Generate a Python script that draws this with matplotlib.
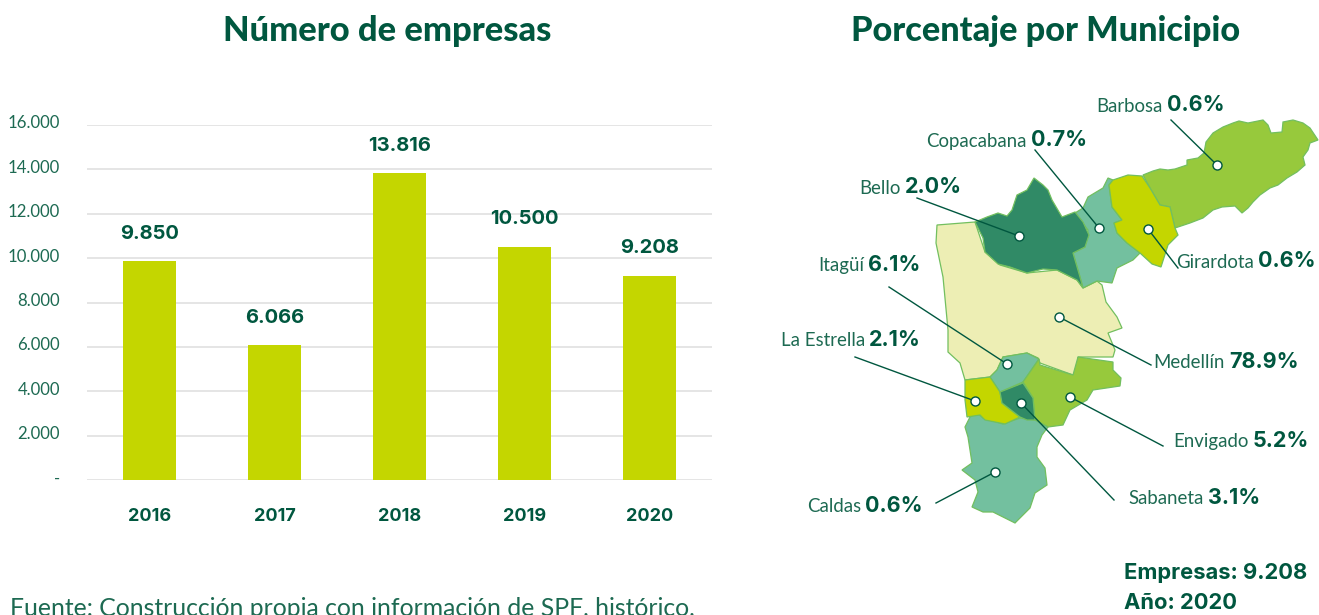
import matplotlib
matplotlib.use("Agg")
import matplotlib.pyplot as plt
from matplotlib.patches import Polygon
from matplotlib.transforms import ScaledTranslation

plt.rcParams['font.family'] = ['Lato', 'DejaVu Sans']

DARK = "#00573f"
TICK = "#1d6a52"
EDGE = "#72bf5f"
NUM_FONT = ['Inter', 'DejaVu Sans']

# Bar chart data
years = ["2016", "2017", "2018", "2019", "2020"]
companies = [9850, 6066, 13816, 10500, 9208]
y_ticks = [0, 2000, 4000, 6000, 8000, 10000, 12000, 14000, 16000]

# Municipality outlines (image pixels)
barbosa = [(1143, 175), (1153, 171), (1160, 169), (1168, 170), (1175, 169), (1187, 165), (1187, 160), (1198, 158),
           (1204, 153), (1206, 142), (1213, 133), (1223, 127), (1233, 123), (1239, 121), (1248, 123), (1263, 120),
           (1268, 125), (1271, 133), (1282, 132), (1283, 122), (1293, 120), (1303, 123), (1310, 128), (1318, 140),
           (1310, 143), (1308, 150), (1303, 157), (1305, 165), (1297, 172), (1287, 178), (1278, 185), (1270, 188),
           (1260, 195), (1253, 202), (1248, 208), (1242, 213), (1235, 206), (1222, 207), (1213, 210), (1203, 218),
           (1190, 223), (1175, 228), (1170, 207), (1160, 205), (1150, 188)]
girardota = [(1109, 185), (1113, 180), (1128, 175), (1142, 176), (1150, 188), (1160, 205), (1170, 207),
             (1175, 228), (1178, 235), (1168, 245), (1161, 267), (1152, 264), (1140, 253), (1127, 243),
             (1117, 233), (1114, 223), (1122, 220), (1112, 207)]
copacabana = [(1108, 178), (1113, 180), (1109, 185), (1112, 207), (1122, 220), (1114, 223), (1117, 233),
              (1127, 243), (1140, 253), (1133, 260), (1117, 268), (1112, 283), (1097, 281), (1083, 288),
              (1080, 277), (1073, 253), (1085, 247), (1088, 230), (1075, 213), (1083, 208), (1088, 197),
              (1103, 188)]
bello = [(975, 222), (987, 217), (998, 213), (1007, 216), (1012, 210), (1017, 195), (1027, 190), (1034, 178),
         (1043, 185), (1048, 190), (1052, 200), (1062, 217), (1075, 212), (1083, 222), (1089, 235), (1085, 247),
         (1073, 253), (1080, 277), (1083, 288), (1077, 280), (1067, 275), (1057, 270), (1043, 269), (1027, 273),
         (1010, 267), (998, 264), (985, 252), (983, 238)]
medellin = [(937, 225), (975, 222), (985, 252), (1000, 265), (1027, 273), (1057, 270), (1077, 280),
            (1083, 288), (1097, 281), (1102, 285), (1106, 302), (1117, 317), (1122, 328), (1108, 333), (1115, 350),
            (1113, 357), (1078, 357), (1077, 370), (1073, 375), (1040, 363), (1038, 358), (1027, 353), (1003, 357),
            (997, 370), (990, 377), (965, 380), (960, 363), (948, 352), (948, 330), (943, 277), (936, 243)]
itagui = [(1003, 357), (1027, 353), (1039, 359), (1023, 382), (1000, 392), (990, 377), (997, 370)]
envigado = [(1039, 359), (1040, 365), (1073, 375), (1078, 357), (1113, 362), (1113, 370), (1121, 378),
            (1120, 386), (1093, 390), (1087, 400), (1070, 410), (1063, 425), (1048, 427), (1035, 420),
            (1033, 398), (1023, 382)]
la_estrella = [(965, 380), (990, 377), (1000, 392), (1002, 403), (1020, 417), (1005, 424), (985, 420),
               (980, 415), (967, 417), (965, 400)]
sabaneta = [(1000, 392), (1023, 383), (1033, 398), (1035, 420), (1027, 420), (1020, 417), (1002, 403)]
caldas = [(965, 427), (970, 417), (977, 413), (983, 418), (1003, 424), (1020, 418), (1035, 420), (1048, 427),
          (1042, 435), (1037, 447), (1037, 457), (1045, 468), (1047, 485), (1035, 493), (1030, 508), (1015, 523),
          (1003, 517), (993, 512), (983, 512), (972, 507), (978, 492), (975, 480), (962, 470), (972, 463), (968, 437)]

shapes = [
    (medellin, "#edeeb4"), (barbosa, "#97c93c"), (copacabana, "#73c09f"), (bello, "#308a66"),
    (girardota, "#c4d600"), (itagui, "#73c09f"), (envigado, "#97c93c"), (caldas, "#73c09f"),
    (la_estrella, "#c4d600"), (sabaneta, "#308a66"),
]

# name, share, split x, text y, dot, line end
callouts = [
    ("Barbosa", "0.6%", 1165, 105, (1217, 165), (1171, 120)),
    ("Copacabana", "0.7%", 1029, 140, (1099, 228), (1035, 150)),
    ("Bello", "2.0%", 903, 187, (1019, 236), (917, 198)),
    ("Girardota", "0.6%", 1256, 261, (1148, 229), (1178, 268)),
    ("Itagüí", "6.1%", 866, 265, (1007, 364), (889, 287)),
    ("Medellín", "78.9%", 1227, 362, (1059, 317), (1151, 365)),
    ("La Estrella", "2.1%", 867, 340, (975, 401), (855, 357)),
    ("Envigado", "5.2%", 1251, 441, (1070, 397), (1163, 446)),
    ("Sabaneta", "3.1%", 1206, 498, (1021, 403), (1114, 500)),
    ("Caldas", "0.6%", 863, 506, (995, 472), (936, 503)),
]

W, H = 1319, 615


def thousands(v):
    return "-" if v == 0 else f"{v:,}".replace(",", ".")


def main():
    fig = plt.figure(figsize=(W / 100, H / 100), dpi=100)

    # Bars
    ax = fig.add_axes([87 / W, 1 - 480 / H, 625 / W, 355 / H])
    ax.bar(years, companies, width=0.424, color="#c4d600", zorder=3)
    ax.set_xlim(-0.5, 4.5)
    ax.set_ylim(0, 16000)
    ax.set_yticks(y_ticks, [thousands(v) for v in y_ticks])
    ax.grid(axis="y", color="#dedede", linewidth=1.1, zorder=0)
    ax.tick_params(length=0)
    ax.tick_params(axis="y", labelsize=12.1, labelcolor=TICK, pad=19.5)
    ax.tick_params(axis="x", labelsize=13, labelcolor=DARK, pad=20.5)
    for t in ax.get_xticklabels():
        t.set_fontweight("bold")
        t.set_family(NUM_FONT)
    # labels sit a little above their gridlines
    lift = ScaledTranslation(0, 3 / 100, fig.dpi_scale_trans)
    for t in ax.get_yticklabels():
        t.set_transform(t.get_transform() + lift)
    for s in ax.spines.values():
        s.set_visible(False)
    for i, v in enumerate(companies):
        ax.annotate(thousands(v), (i, v), xytext=(0, 20), textcoords="offset points",
                    ha="center", va="center", fontsize=14.5, fontweight="bold", color=DARK, family=NUM_FONT)

    # Everything else is laid out in image pixels
    m = fig.add_axes([0, 0, 1, 1], zorder=5)
    m.set_xlim(0, W)
    m.set_ylim(H, 0)
    m.axis("off")

    m.text(387, 31, "Número de empresas", ha="center", va="center", fontsize=24.8,
           fontweight="black", color=DARK)
    m.text(1046, 31, "Porcentaje por Municipio", ha="center", va="center", fontsize=24.7,
           fontweight="black", color=DARK)

    for outline, colour in shapes:
        m.add_patch(Polygon(outline, closed=True, facecolor=colour, edgecolor=EDGE, linewidth=0.9))

    for name, share, split, y, dot, end in callouts:
        m.plot([dot[0], end[0]], [dot[1], end[1]], color=DARK, linewidth=1, zorder=6)
        m.plot(*dot, "o", markersize=6.5, markerfacecolor="white", markeredgecolor=DARK,
               markeredgewidth=1, zorder=7)
        m.text(split - 2, y + 1, name, ha="right", va="center", fontsize=13.4, color=TICK)
        m.text(split + 2, y, share, ha="left", va="center", fontsize=15.5, fontweight="bold",
               color=DARK, family=NUM_FONT)

    m.text(1124, 573, "Empresas: 9.208", ha="left", va="center", fontsize=15.8, fontweight="bold",
           color=DARK, family=NUM_FONT)
    m.text(1124, 603, "Año: 2020", ha="left", va="center", fontsize=15.8, fontweight="bold",
           color=DARK, family=NUM_FONT)
    m.text(10, 608, "Fuente: Construcción propia con información de SPF, histórico,", ha="left", va="center",
           fontsize=17.8, color=TICK)

    fig.savefig("out.png", dpi=100)


if __name__ == "__main__":
    main()
